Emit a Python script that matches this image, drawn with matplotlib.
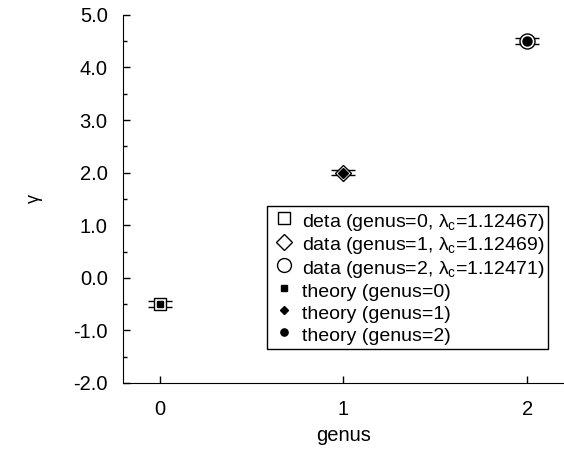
import matplotlib
matplotlib.use('Agg')
import matplotlib.pyplot as plt
from matplotlib.lines import Line2D
from matplotlib.ticker import MultipleLocator, FormatStrFormatter

plt.rcParams['font.family'] = ['Liberation Sans', 'DejaVu Sans']
plt.rcParams['axes.unicode_minus'] = False
plt.rcParams['mathtext.default'] = 'regular'

genus = [0, 1, 2]
gamma_data = [-0.5, 2.0, 4.5]
gamma_err = [0.06, 0.05, 0.05]
gamma_theory = [-0.5, 2.0, 4.5]
lambda_c = ['1.12467', '1.12469', '1.12471']
data_names = ['deta', 'data', 'data']
markers = ['s', 'D', 'o']
open_sizes = [8.6, 8.1, 10.8]
filled_sizes = [5.0, 5.1, 6.5]
legend_open_sizes = [8.6, 8.1, 10.0]
legend_filled_sizes = [4.5, 4.5, 5.2]

fig = plt.figure(figsize=(5.64, 4.49), dpi=100)
ax = fig.add_axes([0.218, 0.147, 0.782, 0.82])

for g, y, e, m, s in zip(genus, gamma_data, gamma_err, markers, open_sizes):
    ax.errorbar([g], [y], yerr=[e], fmt=m, ms=s, mfc='white', mec='black', mew=1.0,
                ecolor='black', elinewidth=0.8, capsize=8.5, capthick=0.9, zorder=2)
for g, y, m, s in zip(genus, gamma_theory, markers, filled_sizes):
    ax.plot([g], [y], m, ms=s, color='black', zorder=3)

handles = []
labels = []
for g, lc, nm, m, s in zip(genus, lambda_c, data_names, markers, legend_open_sizes):
    handles.append(Line2D([], [], ls='none', marker=m, ms=s, mfc='white', mec='black', mew=1.0))
    labels.append(r'%s (genus=%d, $\lambda_c$=%s)' % (nm, g, lc))
for g, m, s in zip(genus, markers, legend_filled_sizes):
    handles.append(Line2D([], [], ls='none', marker=m, ms=s, color='black'))
    labels.append('theory (genus=%d)' % g)

ax.set_xlim(-0.2, 2.2)
ax.set_ylim(-2.0, 5.0)
ax.set_xticks(genus)
ax.yaxis.set_major_locator(MultipleLocator(1.0))
ax.yaxis.set_minor_locator(MultipleLocator(0.5))
ax.yaxis.set_major_formatter(FormatStrFormatter('%.1f'))
ax.tick_params(axis='both', which='major', direction='in', length=5, width=1, labelsize=14.5)
ax.tick_params(axis='y', which='minor', direction='in', length=3, width=1)
ax.tick_params(axis='x', pad=12)
ax.tick_params(axis='y', pad=11)
for side in ['top', 'right']:
    ax.spines[side].set_visible(False)

ax.set_xlabel('genus', fontsize=14.5, labelpad=5)
ax.set_ylabel('γ', fontsize=13, labelpad=22)

# handleheight fixes the row pitch so plain and subscripted rows are evenly spaced
leg = ax.legend(handles, labels, loc='lower right', bbox_to_anchor=(0.9636, 0.0924),
                borderaxespad=0, fontsize=14, frameon=True, fancybox=False,
                edgecolor='black', framealpha=1, handlelength=1.4, handleheight=1.35,
                handletextpad=0.2, labelspacing=0.0, borderpad=0.2, numpoints=1)
leg.get_frame().set_linewidth(1.0)

fig.savefig('out.png', dpi=100)
